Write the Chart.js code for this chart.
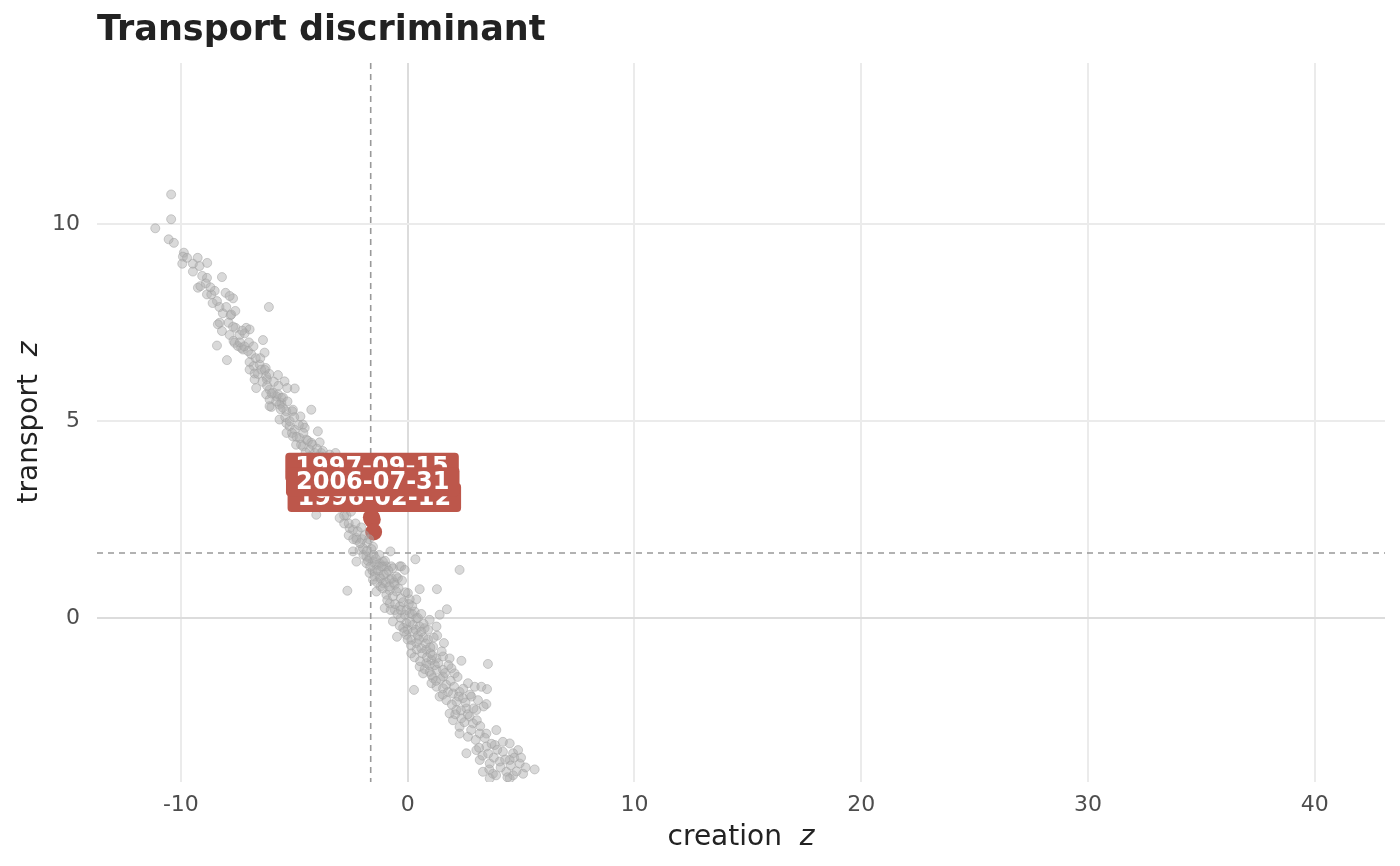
<!DOCTYPE html>
<html>
<head>
<meta charset="utf-8">
<script src="https://cdn.jsdelivr.net/npm/chart.js@4.4.1/dist/chart.umd.min.js"></script>
<style>
  html, body { margin: 0; padding: 0; background: #fff; }
  #wrap { width: 1400px; height: 866px; }
</style>
</head>
<body>
<div id="wrap"><canvas id="chart" width="1400" height="866"></canvas></div>
<script>
// ---- data ----
const chartTitle = 'Transport discriminant';
const xTitle = 'creation';
const yTitle = 'transport';
const xTicks = [-10, 0, 10, 20, 30, 40];
const yTicks = [0, 5, 10];

// all days: creation z / transport z
const creationZ = [
  -10.43, -10.43, -11.13, -10.54, -10.31, -9.87, -9.91, -9.94, -9.73, -9.26,
  -9.47, -9.18, -8.84, -9.47, -9.06, -8.85, -8.19, -9.25, -9.14, -8.85,
  -8.66, -8.51, -8.41, -8.03, -7.70, -6.12, -8.15, -7.81, -8.29, -8.37,
  -8.19, -7.59, -7.12, -6.97, -7.85, -7.41, -7.19, -7.68, -8.41, -6.38,
  -7.49, -7.26, -7.04, -6.31, -7.97, -6.97, -6.79, -6.53, -6.26, -6.97,
  -6.75, -6.21, -5.72, -5.43, -4.98, -6.68, -6.09, -5.79, -6.09, -5.57,
  -5.35, -5.09, -4.25, -6.01, -4.73,
  -7.85, -7.78, -7.63, -7.34, -6.46, -6.24, -6.75, -5.94, -5.31, -6.24,
  -5.72, -5.57, -6.09, -5.65, -5.50, -5.06, -5.65, -5.35, -5.21, -4.98,
  -4.62, -4.54, -3.96, -5.06, -4.76, -4.47, -4.25, -3.88, -4.92, -4.62,
  -4.32, -4.10, -3.81, -3.44, -3.18, -3.74, -5.34,
  -4.03, -4.60, -4.30, -4.00, -3.70, -3.50, -3.30, -3.10, -2.90, -2.70,
  -3.80, -3.20,
  -3.00, -2.56, -2.41, -2.26, -2.26, -2.41, -2.12, -1.97, -1.53, -0.76,
  0.34, -1.82, -1.68, -1.53, -1.24, -1.09, -0.94, -0.35, -0.72, 2.29,
  -1.38, -0.94, -2.80, -2.60, -2.00, -1.80,
  -2.26, -1.82, -1.38, -1.09, -0.65, -0.28, -0.13, -2.66, -1.68, -1.53,
  -1.24, -1.09, -0.79, -0.57, -0.43, -1.38, -0.94, -0.50, 0.01, 0.53,
  1.29, -1.01, -0.79, -0.57, -0.35, -0.65, -0.47, -0.13, 0.09, 0.31,
  0.38, -0.06, 0.23, 0.53, 0.75, 0.97, 1.27, 1.41, 1.73, 0.38,
  0.09, -0.06, 0.16, 0.38, 0.60, 0.82, 1.12, 1.60, 0.16, 0.53,
  0.82, 1.05, 1.27, 1.56, 1.85, 2.37, 3.54, 0.68, 0.97, 1.27,
  1.56, 1.93, 2.07, 1.12, 1.56, 0.28, 1.05, 1.27, 1.56, 1.78,
  2.00, 2.29, 2.66, 2.96, 3.25, 3.50, 3.47, 1.41, 1.71, 2.15,
  2.44, 2.81, 3.10, 1.85, 2.15, 2.59, 3.03, 2.00, 2.37, 2.73,
  2.88, 2.29, 2.29, 2.66, 3.18, 3.47, 3.91, 4.50, 2.59, 3.03,
  3.47, 3.84, 4.20, 4.65, 4.87, 3.18, 3.62, 4.06, 4.50, 4.94,
  5.60, 3.32, 3.76, 4.35, 4.65, 5.09, 3.62, 4.50,
  -0.30, 0.00, 0.20, 0.60, -0.20, 0.45, 0.70, 0.90, 1.00, 1.30,
  -1.20, -0.80, -0.30,
  // dense core of the band
  -8.9, -8.7, -8.6, -8.3, -8.0, -7.9, -7.7, -7.6, -7.4, -7.3,
  -7.2, -7.0, -6.9, -6.8, -6.7, -6.6, -6.5, -6.4, -6.3, -6.2,
  -6.1, -6.0, -5.9, -5.8, -5.7, -5.6, -5.5, -5.4, -5.3, -5.2,
  -5.1, -5.0, -4.9, -4.8, -4.7, -4.6, -4.5, -4.4, -4.3, -4.2,
  -4.1, -4.0, -3.9, -3.8, -3.7, -3.6, -3.5, -3.4, -3.3, -3.2,
  -3.1, -3.0, -2.9, -2.8, -2.7, -2.6, -2.5, -2.4, -2.3, -2.2,
  -2.1, -2.05, -1.95, -1.9, -1.8, -1.75, -1.7, -1.65, -1.6, -1.55,
  -1.5, -1.45, -1.4, -1.35, -1.3, -1.25, -1.2, -1.15, -1.1, -1.05,
  -1.0, -0.95, -0.9, -0.85, -0.8, -0.75, -0.7, -0.65, -0.6, -0.55,
  -0.5, -0.45, -0.4, -0.35, -0.3, -0.25, -0.2, -0.15, -0.1, -0.05,
  0.0, 0.05, 0.1, 0.15, 0.2, 0.25, 0.3, 0.35, 0.4, 0.45,
  0.5, 0.55, 0.6, 0.65, 0.7, 0.75, 0.8, 0.85, 0.9, 0.95,
  1.0, 1.05, 1.1, 1.15, 1.2, 1.25, 1.35, 1.45, 1.5, 1.55,
  1.65, 1.7, 1.8, 1.9, 1.95, 2.05, 2.1, 2.2, 2.25, 2.35,
  2.45, 2.5, 2.55, 2.65, 2.75, 2.8, 2.9, 3.0, 3.05, 3.15,
  3.2, 3.3, 3.35, 3.4, 3.55, 3.6, 3.7, 3.8, 3.9, 3.95,
  4.1, 4.2, 4.3, 4.4, 4.55, 4.7, 4.8, 5.0, 5.2
];
const transportZ = [
  10.76, 10.13, 9.90, 9.62, 9.53, 9.28, 9.18, 9.00, 9.15, 9.15,
  9.00, 8.94, 9.02, 8.80, 8.69, 8.64, 8.66, 8.39, 8.43, 8.22,
  8.22, 8.31, 8.05, 8.26, 8.12, 7.90, 7.74, 7.69, 7.50, 7.46,
  7.29, 7.37, 7.37, 7.33, 7.19, 7.19, 7.23, 7.04, 6.92, 7.06,
  6.91, 6.82, 6.78, 6.74, 6.55, 6.50, 6.40, 6.44, 6.35, 6.31,
  6.21, 6.06, 6.17, 6.01, 5.83, 5.84, 5.80, 5.63, 5.55, 5.46,
  5.25, 5.25, 5.29, 5.36, 5.12,
  8.18, 7.71, 6.99, 6.86, 6.31, 6.14, 6.06, 5.72, 5.84, 5.68,
  5.68, 5.59, 5.38, 5.42, 5.34, 5.29, 5.04, 4.95, 4.87, 4.78,
  4.91, 4.83, 4.74, 4.61, 4.57, 4.53, 4.45, 4.46, 4.40, 4.36,
  4.27, 4.19, 4.19, 4.15, 4.19, 4.24, 4.70,
  2.62, 4.00, 3.80, 3.60, 3.50, 3.30, 3.10, 2.90, 2.80, 2.60,
  3.90, 3.50,
  2.54, 2.28, 2.24, 2.03, 1.98, 1.69, 1.73, 1.77, 1.81, 1.69,
  1.49, 1.56, 1.52, 1.43, 1.39, 1.43, 1.31, 1.31, 1.31, 1.22,
  1.22, 1.14, 2.40, 2.10, 2.00, 1.90,
  1.43, 1.39, 1.35, 1.31, 1.26, 1.31, 1.22, 0.69, 1.14, 0.97,
  1.05, 0.88, 0.97, 0.84, 1.01, 0.67, 0.59, 0.67, 0.63, 0.73,
  0.73, 0.25, 0.37, 0.20, 0.29, -0.09, -0.48, 0.08, 0.12, 0.16,
  -0.01, -0.13, -0.18, -0.22, -0.26, -0.05, -0.22, 0.08, 0.22, 0.47,
  0.47, -0.43, -0.56, -0.64, -0.77, -0.81, -0.73, -0.64, -0.90, -1.24,
  -1.15, -1.07, -1.03, -0.98, -1.03, -1.09, -1.17, -1.41, -1.37, -1.32,
  -1.32, -1.28, -1.41, -1.53, -1.49, -1.83, -1.66, -1.75, -1.79, -1.88,
  -1.92, -1.88, -1.66, -1.75, -1.75, -1.81, -2.19, -2.00, -2.09, -2.13,
  -2.04, -2.00, -2.09, -2.43, -2.34, -2.30, -2.34, -2.60, -2.55, -2.51,
  -2.68, -2.77, -2.94, -3.02, -2.94, -2.94, -2.85, -3.19, -3.44, -3.36,
  -3.27, -3.23, -3.40, -3.44, -3.36, -3.61, -3.70, -3.65, -3.61, -3.70,
  -3.85, -3.91, -3.96, -3.91, -4.00, -3.96, -4.08, -4.08,
  0.00, -0.30, 0.30, 0.10, -0.25, -0.45, -0.50, -0.55, -0.90, -0.45,
  0.80, 0.70, 0.50,
  // dense core of the band
  8.5, 8.4, 8.0, 7.9, 7.9, 7.5, 7.4, 7.8, 7.0, 7.3,
  6.9, 7.0, 6.7, 6.9, 6.6, 6.2, 6.6, 6.0, 6.3, 5.9,
  6.2, 5.7, 6.0, 5.5, 5.9, 5.3, 5.6, 5.1, 5.5, 5.0,
  4.7, 5.1, 4.6, 4.9, 4.4, 4.7, 4.2, 4.5, 4.1, 4.4,
  3.9, 4.3, 3.7, 4.1, 3.8, 3.4, 3.9, 3.2, 3.7, 3.0,
  3.3, 2.8, 3.1, 2.6, 2.9, 2.4, 2.7, 2.0, 2.4, 2.2,
  1.9, 2.3, 1.6, 2.1, 1.7, 1.45, 2.0, 1.3, 1.75, 1.2,
  1.6, 1.05, 1.5, 0.9, 1.2, 1.6, 1.0, 1.3, 0.75, 1.1,
  1.45, 0.9, 0.45, 1.2, 0.8, 0.2, 1.0, 0.55, 0.9, 0.35,
  1.05, 0.1, 0.75, -0.2, 0.2, 0.95, 0.4, -0.35, 0.65, 0.2,
  -0.55, 0.35, -0.1, -0.7, 0.1, -0.35, -1.0, -0.3, -0.8, 0.0,
  -0.55, -1.1, -0.35, -0.9, -0.15, -1.3, -0.65, -1.0, -0.3, -1.2,
  -0.75, -1.45, -0.95, -0.5, -1.2, -1.6, -1.15, -1.55, -0.85, -1.95,
  -1.4, -1.7, -1.2, -1.6, -2.2, -1.75, -2.45, -1.5, -2.0, -2.35,
  -1.8, -2.65, -2.15, -2.45, -1.95, -2.85, -2.3, -3.1, -2.6, -3.3,
  -2.75, -3.5, -2.25, -3.05, -3.45, -3.85, -3.2, -3.55, -4.0, -3.35,
  -3.8, -3.15, -3.6, -4.05, -3.75, -3.55, -3.9, -3.55, -3.8
];

// flagged days (listed in drawing order)
const flagDates = ['1997-09-15', '1996-02-12', '2006-07-31'];
const flagCreation = [-1.60, -1.56, -1.50];
const flagTransport = [2.56, 2.50, 2.18];
const flagLabelX = [-1.57, -1.47, -1.54];
const flagLabelY = [3.83, 3.06, 3.46];

// reference (threshold) lines
const vLineX = [-1.63];
const hLineY = [1.65];

const FONT = '"DejaVu Sans", "Noto Sans", sans-serif';
const RED = '#bd574b';

const greyPoints = creationZ.map((x, i) => ({ x: x, y: transportZ[i] }));
const flagPoints = flagCreation.map((x, i) => ({ x: x, y: flagTransport[i] }));

// dashed threshold lines, under the points
const refLines = {
  id: 'refLines',
  beforeDatasetsDraw(chart) {
    const { ctx, chartArea: a, scales: { x, y } } = chart;
    ctx.save();
    ctx.strokeStyle = '#999999';
    ctx.lineWidth = 1.6;
    ctx.setLineDash([6, 5]);
    vLineX.forEach(v => {
      const px = x.getPixelForValue(v);
      ctx.beginPath();
      ctx.moveTo(px, a.top);
      ctx.lineTo(px, a.bottom);
      ctx.stroke();
    });
    hLineY.forEach(v => {
      const py = y.getPixelForValue(v);
      ctx.beginPath();
      ctx.moveTo(a.left, py);
      ctx.lineTo(a.right, py);
      ctx.stroke();
    });
    ctx.restore();
  }
};

function roundRect(ctx, x, y, w, h, r) {
  ctx.beginPath();
  ctx.moveTo(x + r, y);
  ctx.lineTo(x + w - r, y);
  ctx.quadraticCurveTo(x + w, y, x + w, y + r);
  ctx.lineTo(x + w, y + h - r);
  ctx.quadraticCurveTo(x + w, y + h, x + w - r, y + h);
  ctx.lineTo(x + r, y + h);
  ctx.quadraticCurveTo(x, y + h, x, y + h - r);
  ctx.lineTo(x, y + r);
  ctx.quadraticCurveTo(x, y, x + r, y);
  ctx.closePath();
}

// date labels, title and axis titles (with italic z)
const decorations = {
  id: 'decorations',
  afterDraw(chart) {
    const { ctx, chartArea: a, scales: { x, y } } = chart;
    ctx.save();

    // flagged labels
    ctx.font = 'bold 24px ' + FONT;
    ctx.textAlign = 'center';
    ctx.textBaseline = 'middle';
    flagDates.forEach((d, i) => {
      const cx = x.getPixelForValue(flagLabelX[i]);
      const cy = y.getPixelForValue(flagLabelY[i]);
      const w = ctx.measureText(d).width + 20;
      const h = 29;
      ctx.fillStyle = RED;
      roundRect(ctx, cx - w / 2, cy - h / 2, w, h, 4);
      ctx.fill();
      ctx.fillStyle = '#ffffff';
      ctx.fillText(d, cx, cy + 1);
    });

    // plot title
    ctx.font = 'bold 35px ' + FONT;
    ctx.fillStyle = '#222222';
    ctx.textAlign = 'left';
    ctx.textBaseline = 'alphabetic';
    ctx.fillText(chartTitle, a.left, 40);

    // axis titles: "name  z" with italic z
    const drawTitle = (label, cx, cy, rot) => {
      ctx.save();
      ctx.translate(cx, cy);
      ctx.rotate(rot);
      ctx.fillStyle = '#222222';
      ctx.textBaseline = 'alphabetic';
      ctx.textAlign = 'left';
      ctx.font = '28px ' + FONT;
      const main = label + '  ';
      const w1 = ctx.measureText(main).width;
      ctx.font = 'italic 28px ' + FONT;
      const w2 = ctx.measureText('z').width;
      const start = -(w1 + w2) / 2;
      ctx.font = '28px ' + FONT;
      ctx.fillText(main, start, 0);
      ctx.font = 'italic 28px ' + FONT;
      ctx.fillText('z', start + w1, 0);
      ctx.restore();
    };
    drawTitle(xTitle, (a.left + a.right) / 2, 845, 0);
    drawTitle(yTitle, 37, (a.top + a.bottom) / 2, -Math.PI / 2);

    ctx.restore();
  }
};

const gridColor = ctx => (ctx.tick && ctx.tick.value === 0) ? '#dcdcdc' : '#ebebeb';

new Chart(document.getElementById('chart').getContext('2d'), {
  type: 'scatter',
  data: {
    datasets: [
      {
        label: 'days',
        data: greyPoints,
        backgroundColor: 'rgba(172, 172, 172, 0.46)',
        borderColor: 'rgba(160, 160, 160, 0.5)',
        borderWidth: 1,
        pointRadius: 4.5
      },
      {
        label: 'flagged',
        data: flagPoints,
        backgroundColor: RED,
        borderColor: RED,
        borderWidth: 0,
        pointRadius: 8.5
      }
    ]
  },
  options: {
    responsive: false,
    animation: false,
    events: [],
    layout: { padding: { top: 63, right: 15, left: 0, bottom: 0 } },
    plugins: {
      legend: { display: false },
      tooltip: { enabled: false },
      title: { display: false }
    },
    scales: {
      x: {
        type: 'linear',
        min: -13.7,
        max: 43.1,
        afterBuildTicks: scale => { scale.ticks = xTicks.map(v => ({ value: v })); },
        afterFit: scale => { scale.height = 84; },
        grid: { color: gridColor, lineWidth: 2, drawTicks: false },
        border: { display: false },
        ticks: {
          padding: 10,
          color: '#4d4d4d',
          font: { family: FONT, size: 22 },
          callback: v => String(v)
        }
      },
      y: {
        type: 'linear',
        min: -4.17,
        max: 14.1,
        afterBuildTicks: scale => { scale.ticks = yTicks.map(v => ({ value: v })); },
        afterFit: scale => { scale.width = 97; },
        grid: { color: gridColor, lineWidth: 2, drawTicks: false },
        border: { display: false },
        ticks: {
          padding: 17,
          color: '#4d4d4d',
          font: { family: FONT, size: 22 },
          callback: v => String(v)
        }
      }
    }
  },
  plugins: [refLines, decorations]
});
</script>
</body>
</html>
